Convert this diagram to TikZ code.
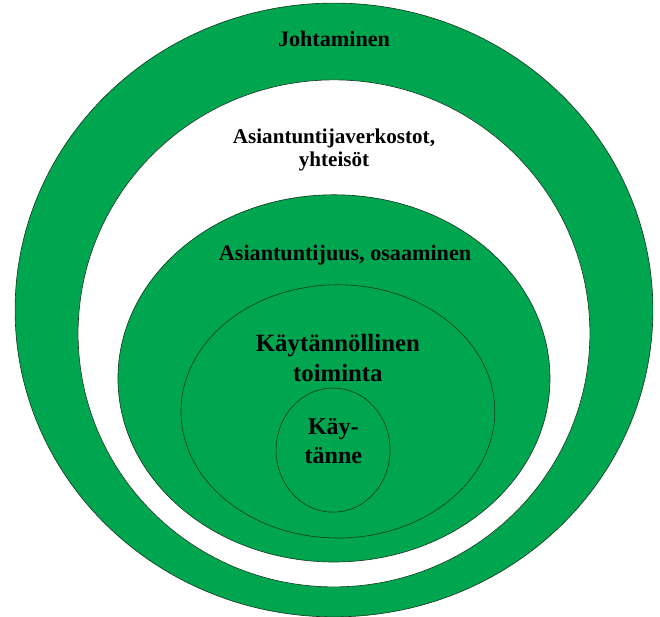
\documentclass[tikz,border=0pt]{standalone}
\usepackage{fontspec}
\setmainfont{Liberation Serif}
\usepackage{xcolor}
\usepackage{tikz}
\usetikzlibrary{positioning}
\definecolor{ringgreen}{RGB}{0,165,80}
\definecolor{ringline}{RGB}{20,60,30}
\tikzset{every picture/.append style={thick}}
\tikzset{
  ring/.style={fill=ringgreen, draw=ringline, line width=0.6pt},
  gap/.style={fill=white, draw=ringline, line width=0.6pt},
  rim/.style={draw=ringline, line width=0.6pt},
  label/.style={font=\bfseries, align=center, inner sep=0pt}
}

\begin{document}
\begin{tikzpicture}
        
        % ==========================================
        % Frame
        % ==========================================
        \useasboundingbox (-11.133,-10.233) rectangle (10.867,10.333);
        
        % ==========================================
        % Rings
        % ==========================================
        % Outer ring: Johtaminen
        \draw[ring] (0,0) ellipse [x radius=10.63, y radius=10.23];
        
        % White ring: networks
        \draw[gap] (0,-0.78) ellipse [x radius=8.53, y radius=8.45];
        
        % Expertise
        \draw[ring] (0,-2.28) ellipse [x radius=7.2, y radius=6.12];
        
        % Practical action and practice
        \draw[rim] (0.13,-3.38) ellipse [x radius=5.23, y radius=4.22];
        \draw[rim] (-0.03,-4.67) ellipse [x radius=1.9, y radius=2.07];
        
        % ==========================================
        % Labels
        % ==========================================
        \node[label, font=\bfseries\fontsize{21}{24}\selectfont] (lead) at (0,9.03) {Johtaminen};
        \node[label, font=\bfseries\fontsize{20}{21.8}\selectfont] (network) at (0,5.33) {Asiantuntijaverkostot,\\yhteisöt};
        \node[label, font=\bfseries\fontsize{21}{24}\selectfont] (expert) at (0.37,1.83) {Asiantuntijuus, osaaminen};
        \node[label, font=\bfseries\fontsize{23.5}{29}\selectfont] (action) at (0.13,-1.6) {Käytännöllinen\\toiminta};
        \node[label, font=\bfseries\fontsize{22.8}{26.6}\selectfont] (practice) at (-0.02,-4.37) {Käy-\\tänne};
        
    \end{tikzpicture}
\end{document}
